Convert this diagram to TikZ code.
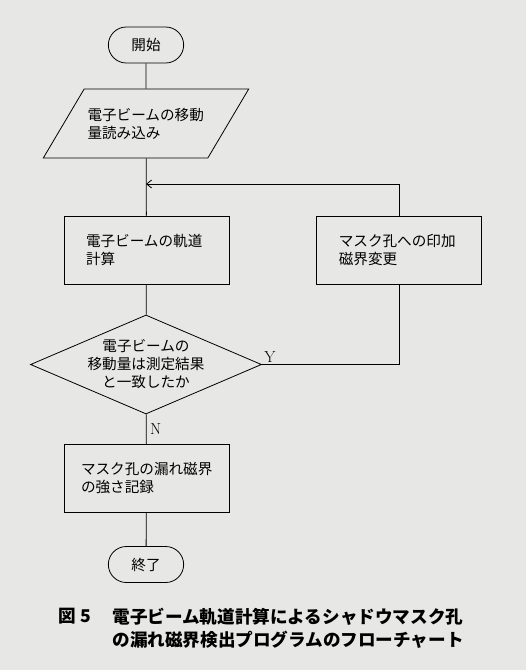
\documentclass[tikz,border=0pt]{standalone}
\usepackage{fontspec}
\newfontfamily\jp{Noto Sans CJK JP}
\usetikzlibrary{arrows, arrows.meta, positioning, shapes.geometric, shapes.misc}
\definecolor{paper}{RGB}{231,231,229}

\begin{document}
\begin{tikzpicture}[x=1pt, y=-1pt, line width=0.8pt, font=\jp\fontsize{14.6}{18}\selectfont]
    \tikzstyle{termbox}=[draw, rounded rectangle, minimum width=82pt, minimum height=36pt]
    \tikzstyle{iobox}=[draw, trapezium, trapezium left angle=43, trapezium right angle=137, trapezium stretches=true, minimum width=201pt, minimum height=69pt, align=left, text width=117pt]
    \tikzstyle{procbox}=[draw, rectangle, minimum height=68pt, align=left, text width=121pt, inner xsep=22pt]
    \tikzstyle{decision}=[draw, diamond, aspect=2.33, minimum width=231pt, minimum height=99pt, inner sep=-6pt, align=center]
    \tikzstyle{yesno}=[font=\normalfont\fontsize{16}{18}\selectfont]
    \tikzstyle{captext}=[inner sep=0pt, font=\jp\bfseries\fontsize{17.6}{23}\selectfont]

    \fill[paper] (0,0) rectangle (526,670);
    \useasboundingbox (0,0) rectangle (526,670);

    \node[termbox] (start) at (146,45) {開始};
    \node[iobox] (input) at (146,123.5) {電子ビームの移動\\量読み込み};
    \coordinate (join) at (146,184);
    \node[procbox] (calc) at (146.5,250) {電子ビームの軌道\\計算};
    \node[procbox, right=87pt of calc] (fix) {マスク孔への印加\\磁界変更};
    \node[decision] (match) at (146,364.5) {電子ビームの\\移動量は測定結果\\と一致したか};
    \node[procbox, text width=131pt, inner xsep=17pt] (result) at (146.5,478.5) {マスク孔の漏れ磁界\\の強さ記録};
    \node[termbox] (end) at (146,564.5) {終了};

    \draw (start) -- (input);
    \draw (input) -- (calc);
    \draw[-{Straight Barb[length=5pt, width=8pt]}] (fix.north) |- (join);
    \draw (calc) -- (match);
    \draw (match.east) -| node[yesno, pos=0, above right, inner sep=2pt] {Y} (fix.south);
    \draw (match) -- node[yesno, right] {N} (result);
    \draw (result) -- (end);

    \node[captext, anchor=north west] (fignum) at (58,608) {図 5};
    \node[captext, anchor=north west, align=left] (caption) at (112,608) {電子ビーム軌道計算によるシャドウマスク孔\\の漏れ磁界検出プログラムのフローチャート};
\end{tikzpicture}
\end{document}
